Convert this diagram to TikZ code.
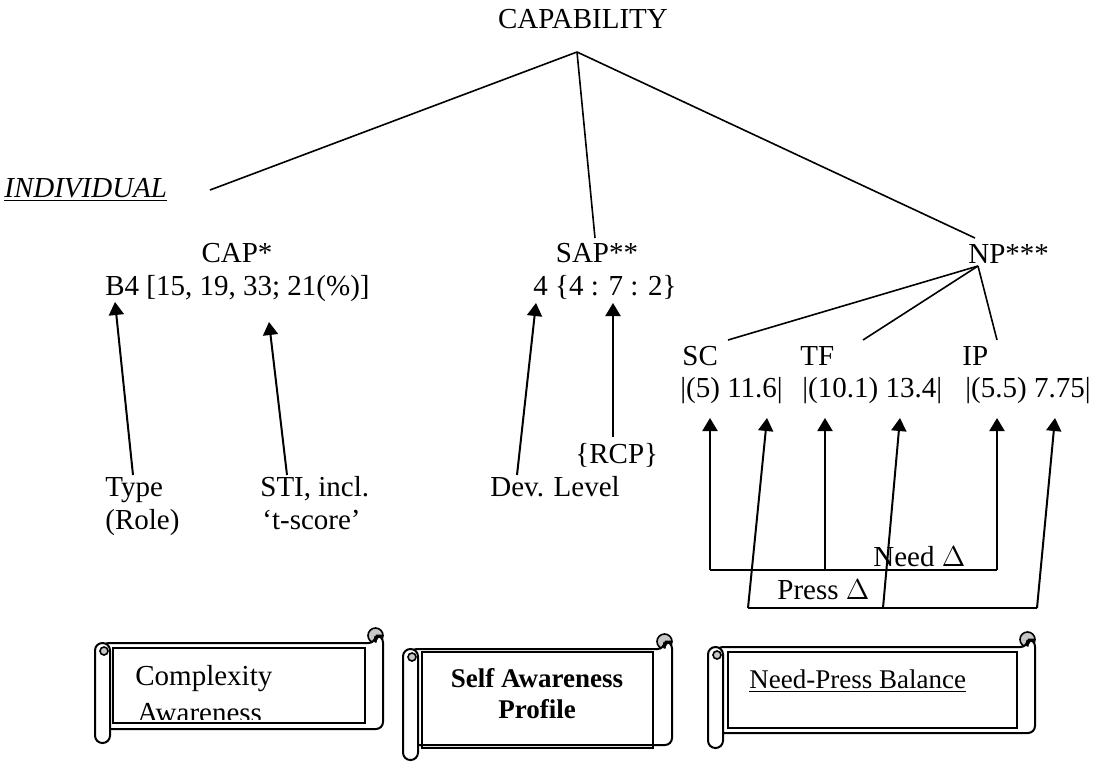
\documentclass[tikz,border=0pt]{standalone}
\usepackage{fontspec}
\setmainfont{Liberation Serif}
\usetikzlibrary{arrows.meta}
\newcommand{\txtsize}{\fontsize{14.5}{16.5}\selectfont}
\newcommand{\scrsize}{\fontsize{13.5}{16}\selectfont}
\tikzstyle{txt}=[inner sep=0pt, font=\txtsize, anchor=base west]
\tikzstyle{ctxt}=[txt, anchor=base]
\tikzstyle{stxt}=[inner sep=0pt, font=\scrsize, anchor=base west]
\tikzstyle{branch}=[line width=0.8pt]
\tikzstyle{link}=[line width=1pt]
\tikzstyle{arr}=[link, -{Triangle[width=7.5pt,length=6.5pt]}]
\tikzstyle{roll}=[line width=1pt, fill=white]
\tikzstyle{curl}=[line width=0.8pt, fill=black!22]
\tikzstyle{pane}=[line width=1.2pt]

\begin{document}
\begin{tikzpicture}[x=0.5pt,y=-0.5pt]
	\useasboundingbox (0,0) rectangle (1093,762);
	% top of the tree
	\node[ctxt] (cap) at (583,28) {CAPABILITY};
	\coordinate (top) at (577,52);
	\node[txt] (ind) at (4,197) {\underline{\textit{INDIVIDUAL}}};
	\coordinate (lend) at (210,190);
	\coordinate (mend) at (595,238);
	\coordinate (rend) at (975,238);
	\draw[branch] (top)edge(lend) (top)edge(mend) (top)edge(rend);
	% the three profiles
	\node[ctxt] (capt) at (237,262) {CAP*};
	\node[txt] (capv) at (105,295) {B4 [15, 19, 33; 21(\%)]};
	\node[ctxt] (sapt) at (597,262) {SAP**};
	\node[txt] (sapv) at (533,295) {4 \{4 : 7 : 2\}};
	\node[txt] (npt) at (968,263) {NP***};
	% NP branches
	\coordinate (np) at (978,266);
	\node[txt] (sc) at (682,365) {SC};
	\node[txt] (scv) at (680,397) {|(5) 11.6|};
	\node[txt] (tf) at (800,365) {TF};
	\node[txt] (tfv) at (802,397) {|(10.1) 13.4|};
	\node[txt] (ip) at (962,365) {IP};
	\node[txt] (ipv) at (965,397) {|(5.5) 7.75|};
	\coordinate (sce) at (728,340);
	\coordinate (tfe) at (863,340);
	\coordinate (ipe) at (997,340);
	\draw[branch] (np)edge(sce) (np)edge(tfe) (np)edge(ipe);
	% labels under CAP and SAP
	\node[txt] (type) at (105,496) {Type};
	\node[txt] (role) at (105,529) {(Role)};
	\node[txt] (sti) at (260,496) {STI, incl.};
	\node[txt] (tsc) at (262,529) {‘t-score’};
	\node[txt] (dev) at (490,496) {Dev. Level};
	\node[txt] (rcp) at (575,463) {\{RCP\}};
	\coordinate (ta) at (115,302); \coordinate (ba) at (133,475);
	\coordinate (tb) at (269,322); \coordinate (bb) at (287,475);
	\coordinate (tc) at (536,303); \coordinate (bc) at (517,475);
	\coordinate (td) at (613,303); \coordinate (bd) at (613,437);
	\draw[arr] (ba)--(ta);
	\draw[arr] (bb)--(tb);
	\draw[arr] (bc)--(tc);
	\draw[arr] (bd)--(td);
	% need and press
	\coordinate (n1) at (710,570); \coordinate (n2) at (825,570); \coordinate (n3) at (997,570);
	\coordinate (u1) at (710,418); \coordinate (u2) at (825,418); \coordinate (u3) at (997,418);
	\coordinate (p1) at (748,608); \coordinate (p2) at (883,608); \coordinate (p3) at (1037,608);
	\coordinate (v1) at (767,418); \coordinate (v2) at (900,418); \coordinate (v3) at (1055,418);
	\draw[link] (n1)--(n3);
	\draw[link] (p1)--(p3);
	\draw[arr] (n1)--(u1);
	\draw[arr] (n2)--(u2);
	\draw[arr] (n3)--(u3);
	\draw[arr] (p1)--(v1);
	\draw[arr] (p2)--(v2);
	\draw[arr] (p3)--(v3);
	\node[txt] (need) at (873,566) {Need $\Delta$};
	\node[txt] (press) at (777,599) {Press $\Delta$};
	% scroll 1
	\draw[curl] (375.5,635.5) circle (7.5);
	\draw[roll, rounded corners=3.5pt] (102,643) -- (375.5,643) -- (375.5,635.5) -- (383,635.5) -- (383,729) -- (102,729) -- cycle;
	\draw[pane] (113,648) rectangle (365,723);
	\begin{scope}
		\clip (113,648) rectangle (365,719);
		\node[stxt, font=\txtsize] (cx1) at (135,685) {Complexity};
		\node[stxt, font=\txtsize] (cx2) at (137,722) {Awareness};
	\end{scope}
	\draw[roll, rounded corners=3.7pt] (95,643) rectangle (110,743);
	\draw[curl] (104,651) circle (4);
	% scroll 2
	\draw[curl] (664.5,641.5) circle (7.5);
	\draw[roll, rounded corners=3.5pt] (410,649) -- (664.5,649) -- (664.5,641.5) -- (672,641.5) -- (672,745) -- (410,745) -- cycle;
	\draw[pane] (422,652) rectangle (653,748);
	\node[stxt, anchor=base, font=\scrsize\bfseries] (sa1) at (537,687) {Self Awareness};
	\node[stxt, anchor=base, font=\scrsize\bfseries] (sa2) at (537,718) {Profile};
	\draw[roll, rounded corners=3.7pt] (403,649) rectangle (418,760);
	\draw[curl] (412,657) circle (4);
	% scroll 3
	\draw[curl] (1027.5,639.5) circle (7.5);
	\draw[roll, rounded corners=3.5pt] (716,647) -- (1027.5,647) -- (1027.5,639.5) -- (1035,639.5) -- (1035,733) -- (716,733) -- cycle;
	\draw[pane] (728,652) rectangle (1017,728);
	\node[stxt] (npb) at (749,688) {\underline{Need-Press Balance}};
	\draw[roll, rounded corners=3.7pt] (708,647) rectangle (723,748);
	\draw[curl] (717,655) circle (4);
\end{tikzpicture}
\end{document}
